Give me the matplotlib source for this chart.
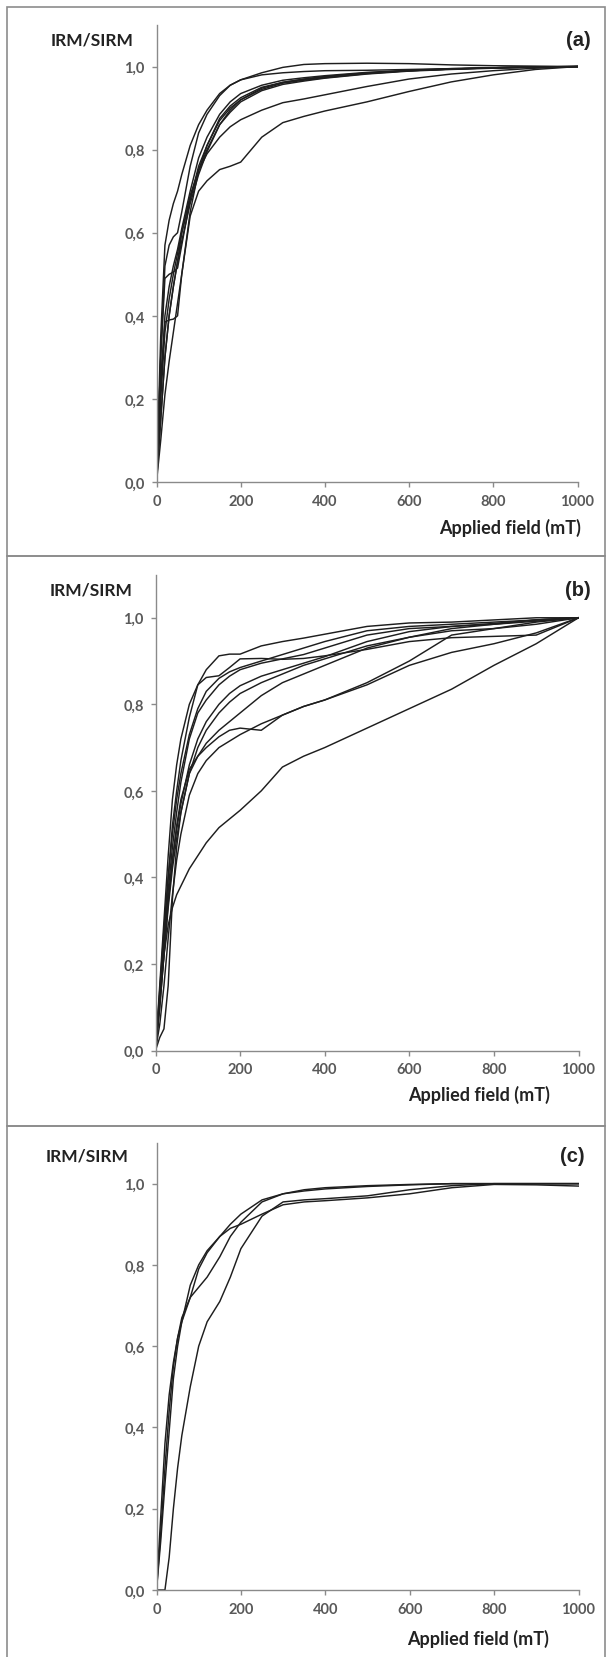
import numpy as np
import matplotlib
matplotlib.use("Agg")
import matplotlib.pyplot as plt
from matplotlib.patches import Rectangle

# --- data ---
y_ticks = [0.0, 0.2, 0.4, 0.6, 0.8, 1.0]
y_tick_labels = ["0,0", "0,2", "0,4", "0,6", "0,8", "1,0"]
x_ticks = [0, 200, 400, 600, 800, 1000]
x_tick_labels = ["0", "200", "400", "600", "800", "1000"]

fields = [0, 10, 20, 30, 40, 50, 60, 80, 100, 120, 150, 175, 200,
          250, 300, 350, 400, 500, 600, 700, 800, 900, 1000]

# panel (a)
irm_a = [
    [0, 0.35, 0.57, 0.63, 0.67, 0.70, 0.74, 0.81, 0.86, 0.895, 0.935, 0.955, 0.968, 0.985, 0.998, 1.005, 1.007, 1.008, 1.007, 1.004, 1.002, 1.001, 1.0],
    [0, 0.30, 0.52, 0.57, 0.59, 0.60, 0.65, 0.76, 0.84, 0.885, 0.930, 0.955, 0.968, 0.980, 0.985, 0.988, 0.990, 0.991, 0.993, 0.995, 0.997, 0.999, 1.0],
    [0, 0.30, 0.49, 0.50, 0.505, 0.515, 0.57, 0.68, 0.76, 0.81, 0.870, 0.900, 0.920, 0.945, 0.960, 0.967, 0.973, 0.983, 0.990, 0.994, 0.997, 0.999, 1.0],
    [0, 0.25, 0.385, 0.39, 0.392, 0.40, 0.50, 0.65, 0.75, 0.81, 0.875, 0.905, 0.925, 0.950, 0.962, 0.969, 0.975, 0.984, 0.990, 0.994, 0.997, 0.999, 1.0],
    [0, 0.20, 0.36, 0.44, 0.50, 0.55, 0.60, 0.68, 0.75, 0.80, 0.860, 0.890, 0.915, 0.942, 0.957, 0.965, 0.972, 0.982, 0.989, 0.993, 0.996, 0.998, 1.0],
    [0, 0.15, 0.30, 0.40, 0.47, 0.53, 0.58, 0.67, 0.74, 0.795, 0.860, 0.895, 0.920, 0.948, 0.962, 0.970, 0.976, 0.985, 0.990, 0.994, 0.997, 0.999, 1.0],
    [0, 0.22, 0.40, 0.47, 0.52, 0.56, 0.61, 0.70, 0.78, 0.83, 0.885, 0.915, 0.935, 0.955, 0.967, 0.973, 0.978, 0.986, 0.991, 0.995, 0.997, 0.999, 1.0],
    [0, 0.15, 0.30, 0.40, 0.47, 0.53, 0.60, 0.69, 0.75, 0.79, 0.830, 0.855, 0.872, 0.895, 0.913, 0.922, 0.932, 0.952, 0.970, 0.982, 0.990, 0.996, 1.0],
    [0, 0.10, 0.21, 0.29, 0.36, 0.43, 0.50, 0.64, 0.70, 0.725, 0.752, 0.760, 0.770, 0.830, 0.865, 0.880, 0.893, 0.915, 0.940, 0.963, 0.980, 0.993, 1.0],
]

# panel (b)
irm_b = [
    [0, 0.13, 0.27, 0.40, 0.52, 0.60, 0.67, 0.77, 0.845, 0.880, 0.912, 0.916, 0.916, 0.935, 0.945, 0.953, 0.962, 0.980, 0.988, 0.990, 0.995, 1.000, 1.0],
    [0, 0.15, 0.30, 0.45, 0.58, 0.66, 0.72, 0.80, 0.845, 0.862, 0.866, 0.885, 0.905, 0.906, 0.904, 0.906, 0.912, 0.927, 0.945, 0.954, 0.957, 0.960, 1.0],
    [0, 0.14, 0.28, 0.40, 0.50, 0.58, 0.64, 0.73, 0.79, 0.830, 0.860, 0.875, 0.885, 0.900, 0.915, 0.930, 0.945, 0.970, 0.980, 0.985, 0.990, 0.995, 1.0],
    [0, 0.12, 0.25, 0.37, 0.47, 0.55, 0.62, 0.72, 0.78, 0.810, 0.845, 0.865, 0.880, 0.895, 0.905, 0.915, 0.930, 0.960, 0.975, 0.980, 0.985, 0.992, 1.0],
    [0, 0.12, 0.24, 0.35, 0.44, 0.51, 0.57, 0.66, 0.72, 0.760, 0.800, 0.825, 0.843, 0.865, 0.880, 0.895, 0.910, 0.945, 0.968, 0.980, 0.987, 0.995, 1.0],
    [0, 0.10, 0.22, 0.33, 0.42, 0.49, 0.55, 0.64, 0.70, 0.740, 0.780, 0.805, 0.825, 0.850, 0.870, 0.890, 0.905, 0.935, 0.955, 0.975, 0.985, 0.995, 1.0],
    [0, 0.10, 0.22, 0.34, 0.44, 0.52, 0.58, 0.65, 0.68, 0.700, 0.725, 0.740, 0.745, 0.740, 0.775, 0.795, 0.810, 0.850, 0.900, 0.960, 0.975, 0.990, 1.0],
    [0, 0.06, 0.15, 0.26, 0.36, 0.44, 0.50, 0.59, 0.64, 0.670, 0.700, 0.715, 0.730, 0.755, 0.775, 0.795, 0.810, 0.845, 0.890, 0.920, 0.940, 0.965, 1.0],
    [0, 0.03, 0.05, 0.15, 0.35, 0.47, 0.55, 0.64, 0.68, 0.710, 0.740, 0.760, 0.780, 0.820, 0.850, 0.870, 0.890, 0.930, 0.955, 0.970, 0.975, 0.985, 1.0],
    [0, 0.12, 0.22, 0.29, 0.33, 0.36, 0.38, 0.42, 0.45, 0.480, 0.515, 0.535, 0.555, 0.600, 0.655, 0.680, 0.700, 0.745, 0.790, 0.835, 0.890, 0.940, 1.0],
]

# panel (c)
irm_c = [
    [0, 0.18, 0.36, 0.48, 0.56, 0.62, 0.67, 0.72, 0.745, 0.770, 0.820, 0.870, 0.905, 0.955, 0.975, 0.985, 0.990, 0.995, 0.998, 1.0, 1.0, 1.0, 1.0],
    [0, 0.12, 0.26, 0.39, 0.52, 0.60, 0.66, 0.75, 0.80, 0.835, 0.870, 0.890, 0.900, 0.925, 0.948, 0.955, 0.958, 0.965, 0.975, 0.990, 0.998, 0.997, 0.994],
    [0, 0.14, 0.30, 0.44, 0.55, 0.62, 0.66, 0.72, 0.79, 0.830, 0.870, 0.900, 0.925, 0.960, 0.975, 0.982, 0.987, 0.993, 0.997, 1.0, 1.0, 1.0, 1.0],
    [0, 0.00, 0.00, 0.08, 0.20, 0.30, 0.38, 0.50, 0.60, 0.660, 0.710, 0.770, 0.840, 0.920, 0.955, 0.960, 0.963, 0.970, 0.985, 0.995, 1.0, 1.0, 1.0],
]

panels = [("(a)", irm_a), ("(b)", irm_b), ("(c)", irm_c)]

W, H = 606, 1658
fig = plt.figure(figsize=(W / 100, H / 100), dpi=100)
fig.patch.set_facecolor("white")

# axes boxes in pixels: left, right, bottom(y=0), top(y=1.1)
axes_px = [(156.5, 577.5, 483, 26), (155.5, 578.5, 1051.5, 575.5), (156.5, 578.5, 1591, 1144)]
# panel frames (top, bottom)
frames_px = [(8, 557), (557, 1127), (1127, 1662)]
# label positions
ylab_px = [(92, 41), (91, 590), (87, 1157)]
letter_px = [(578, 41), (578, 590), (572, 1157)]
xlab_px = [(510, 528), (479, 1095), (478, 1639)]

line_col = "#1e1e1e"
axis_col = "#8a8a8a"
tick_col = "#595959"

for i, (letter, curves) in enumerate(panels):
    l, r, b, t = axes_px[i]
    ax = fig.add_axes([l / W, 1 - b / H, (r - l) / W, (b - t) / H])
    for c in curves:
        ax.plot(fields, c, color=line_col, lw=1.05, solid_joinstyle="round")
    ax.set_xlim(0, 1000)
    ax.set_ylim(0, 1.1)
    ax.set_xticks(x_ticks)
    ax.set_xticklabels(x_tick_labels)
    ax.set_yticks(y_ticks)
    ax.set_yticklabels(y_tick_labels)
    for side in ["top", "right"]:
        ax.spines[side].set_visible(False)
    for side in ["left", "bottom"]:
        ax.spines[side].set_color(axis_col)
        ax.spines[side].set_linewidth(1.0)
    ax.tick_params(direction="out", length=3.5, width=1.0, color=axis_col,
                   labelcolor=tick_col, labelsize=10.5, pad=5)
    for lab in ax.get_xticklabels() + ax.get_yticklabels():
        lab.set_family("Lato")
        lab.set_weight("bold")

    fig.text(ylab_px[i][0] / W, 1 - ylab_px[i][1] / H, "IRM/SIRM", ha="center", va="center",
             fontsize=12.5, fontweight="bold", family="Lato", color="#222222")
    fig.text(letter_px[i][0] / W, 1 - letter_px[i][1] / H, letter, ha="center", va="center",
             fontsize=14.5, fontweight="bold", family="Liberation Sans", color="#222222")
    fig.text(xlab_px[i][0] / W, 1 - xlab_px[i][1] / H, "Applied field (mT)", ha="center", va="center",
             fontsize=13, fontweight="bold", family="Lato", color="#222222")

    ft, fb = frames_px[i]
    fig.patches.append(Rectangle((7 / W, 1 - fb / H), (605 - 7) / W, (fb - ft) / H,
                                 transform=fig.transFigure, fill=False,
                                 edgecolor="#8c8c8c", lw=1.2))

fig.savefig("out.png", dpi=100, facecolor="white")
